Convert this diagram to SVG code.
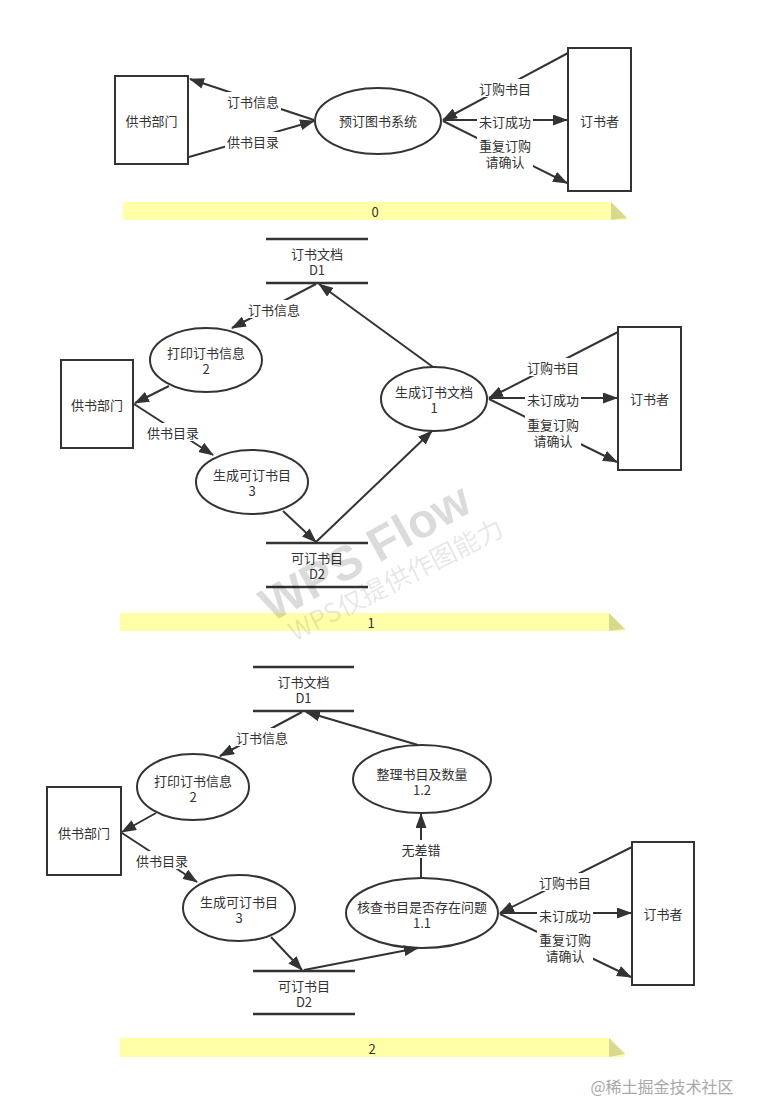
<svg xmlns="http://www.w3.org/2000/svg" width="757" height="1120" viewBox="0 0 757 1120">
<style>
text{font-family:"Noto Sans CJK SC","Liberation Sans",sans-serif;font-size:13px;fill:#333;text-anchor:middle;dominant-baseline:central}
.box{fill:#fff;stroke:#333;stroke-width:2}
.proc{fill:#fff;stroke:#333;stroke-width:2}
.store{stroke:#333;stroke-width:2.5}
.flow{fill:none;stroke:#333;stroke-width:2;marker-end:url(#arr)}
.lbg{fill:#fff}
.band{fill:#ffffa8}
.fold{fill:#d8d88e}
.wm1{font-family:"Liberation Sans",sans-serif;font-weight:bold;font-size:48px;fill:#000;fill-opacity:0.14}
.wm2{font-family:"Noto Sans CJK SC","Liberation Sans",sans-serif;font-size:26px;fill:#000;fill-opacity:0.11}
.credit{font-size:16px;fill:#a8a8a8}
</style>
<defs>
<marker id="arr" markerUnits="userSpaceOnUse" markerWidth="15" markerHeight="11" refX="14" refY="5.5" orient="auto">
<path d="M0,0 L15,5.5 L0,11 z" fill="#333"/>
</marker>
</defs>

<!-- ===== Section 0 ===== -->
<g id="s0-supplier"><rect class="box" x="115" y="76" width="73" height="88"/><text x="151.5" y="120">供书部门</text></g>
<g id="s0-system"><ellipse class="proc" cx="378" cy="121" rx="63" ry="33"/><text x="378" y="120">预订图书系统</text></g>
<g id="s0-orderer"><rect class="box" x="568" y="48" width="63" height="143"/><text x="599.5" y="120">订书者</text></g>
<g id="s0-band"><path class="band" d="M123,202 H611 L627,218 V220 H123 Z"/><path class="fold" d="M611,202 L627,218 L611,220 Z"/><text x="375" y="211">0</text></g>

<!-- ===== Section 1 ===== -->
<g id="s1-D1"><line class="store" x1="266" y1="239" x2="368" y2="239"/><line class="store" x1="266" y1="283" x2="368" y2="283"/><text x="317" y="253">订书文档<tspan x="317" dy="16">D1</tspan></text></g>
<g id="s1-p2"><ellipse class="proc" cx="206" cy="360" rx="56" ry="32"/><text x="206" y="352">打印订书信息<tspan x="206" dy="16">2</tspan></text></g>
<g id="s1-supplier"><rect class="box" x="61" y="360" width="72" height="88"/><text x="97" y="404">供书部门</text></g>
<g id="s1-p3"><ellipse class="proc" cx="252" cy="482" rx="56" ry="32"/><text x="252" y="474">生成可订书目<tspan x="252" dy="16">3</tspan></text></g>
<g id="s1-D2"><line class="store" x1="266" y1="543" x2="368" y2="543"/><line class="store" x1="266" y1="587" x2="368" y2="587"/><text x="317" y="557">可订书目<tspan x="317" dy="16">D2</tspan></text></g>
<g id="s1-p1"><ellipse class="proc" cx="434" cy="399" rx="53" ry="32"/><text x="434" y="391">生成订书文档<tspan x="434" dy="16">1</tspan></text></g>
<g id="s1-orderer"><rect class="box" x="618" y="327" width="63" height="143"/><text x="649.5" y="398">订书者</text></g>
<g id="s1-band"><path class="band" d="M120,613 H609 L625,629 V631 H120 Z"/><path class="fold" d="M609,613 L625,629 L609,631 Z"/><text x="371" y="622">1</text></g>

<!-- ===== Section 2 ===== -->
<g id="s2-D1"><line class="store" x1="253" y1="667" x2="354" y2="667"/><line class="store" x1="253" y1="711" x2="354" y2="711"/><text x="303.5" y="681">订书文档<tspan x="303.5" dy="16">D1</tspan></text></g>
<g id="s2-p2"><ellipse class="proc" cx="193" cy="787" rx="56" ry="33"/><text x="193" y="780">打印订书信息<tspan x="193" dy="16">2</tspan></text></g>
<g id="s2-supplier"><rect class="box" x="47" y="787" width="74" height="88"/><text x="84" y="832">供书部门</text></g>
<g id="s2-p12"><ellipse class="proc" cx="422" cy="779" rx="69" ry="34"/><text x="422" y="773">整理书目及数量<tspan x="422" dy="16">1.2</tspan></text></g>
<g id="s2-p11"><ellipse class="proc" cx="422" cy="913" rx="76" ry="35"/><text x="422" y="906">核查书目是否存在问题<tspan x="422" dy="16">1.1</tspan></text></g>
<g id="s2-orderer"><rect class="box" x="632" y="842" width="62" height="143"/><text x="663" y="913">订书者</text></g>
<g id="s2-p3"><ellipse class="proc" cx="239" cy="908" rx="56" ry="33"/><text x="239" y="901">生成可订书目<tspan x="239" dy="16">3</tspan></text></g>
<g id="s2-D2"><line class="store" x1="253" y1="971" x2="355" y2="971"/><line class="store" x1="253" y1="1014" x2="355" y2="1014"/><text x="304" y="985">可订书目<tspan x="304" dy="16">D2</tspan></text></g>
<g id="s2-band"><path class="band" d="M120,1038 H609 L625,1054 V1057 H120 Z"/><path class="fold" d="M609,1038 L625,1054 L609,1057 Z"/><text x="372" y="1048">2</text></g>

<!-- ===== Connectors ===== -->
<g id="connectors">
<!-- section 0 -->
<line class="flow" x1="314" y1="120" x2="190" y2="79"/>
<line class="flow" x1="189" y1="157" x2="314" y2="121"/>
<line class="flow" x1="568" y1="53" x2="443" y2="120"/>
<line class="flow" x1="443" y1="120" x2="567" y2="120"/>
<line class="flow" x1="443" y1="121" x2="567" y2="183"/>
<!-- section 1 -->
<line class="flow" x1="316" y1="284" x2="232" y2="328"/>
<line class="flow" x1="169" y1="386" x2="135" y2="403"/>
<line class="flow" x1="134" y1="404" x2="213" y2="455"/>
<line class="flow" x1="283" y1="511" x2="316" y2="542"/>
<line class="flow" x1="316" y1="542" x2="432" y2="431"/>
<line class="flow" x1="433" y1="367" x2="319" y2="284"/>
<line class="flow" x1="618" y1="332" x2="489" y2="398"/>
<line class="flow" x1="489" y1="398" x2="617" y2="398"/>
<line class="flow" x1="489" y1="399" x2="617" y2="462"/>
<!-- section 2 -->
<line class="flow" x1="302" y1="712" x2="220" y2="756"/>
<line class="flow" x1="156" y1="813" x2="122" y2="832"/>
<line class="flow" x1="122" y1="833" x2="197" y2="882"/>
<line class="flow" x1="418" y1="745" x2="306" y2="712"/>
<line class="flow" x1="421" y1="878" x2="421" y2="814"/>
<line class="flow" x1="632" y1="847" x2="500" y2="913"/>
<line class="flow" x1="500" y1="913" x2="631" y2="913"/>
<line class="flow" x1="500" y1="914" x2="631" y2="977"/>
<line class="flow" x1="271" y1="937" x2="302" y2="970"/>
<line class="flow" x1="304" y1="970" x2="418" y2="948"/>
<!-- labels -->
<g id="labels">
<rect class="lbg" x="225" y="92" width="56" height="18"/><text x="253" y="101">订书信息</text>
<rect class="lbg" x="225" y="132" width="56" height="18"/><text x="253" y="141">供书目录</text>
<rect class="lbg" x="477" y="79" width="56" height="18"/><text x="505" y="88">订购书目</text>
<rect class="lbg" x="477" y="112" width="56" height="18"/><text x="505" y="121">未订成功</text>
<rect class="lbg" x="477" y="136" width="56" height="34"/><text x="505" y="145">重复订购<tspan x="505" dy="16">请确认</tspan></text>

<rect class="lbg" x="246" y="300" width="56" height="18"/><text x="274" y="309">订书信息</text>
<rect class="lbg" x="145" y="423" width="56" height="18"/><text x="173" y="432">供书目录</text>
<rect class="lbg" x="525" y="358" width="56" height="18"/><text x="553" y="367">订购书目</text>
<rect class="lbg" x="525" y="390" width="56" height="18"/><text x="553" y="399">未订成功</text>
<rect class="lbg" x="525" y="415" width="56" height="34"/><text x="553" y="424">重复订购<tspan x="553" dy="16">请确认</tspan></text>

<rect class="lbg" x="234" y="728" width="56" height="18"/><text x="262" y="737">订书信息</text>
<rect class="lbg" x="134" y="851" width="56" height="18"/><text x="162" y="860">供书目录</text>
<rect class="lbg" x="400" y="840" width="42" height="18"/><text x="421" y="849">无差错</text>
<rect class="lbg" x="537" y="873" width="56" height="18"/><text x="565" y="882">订购书目</text>
<rect class="lbg" x="537" y="906" width="56" height="18"/><text x="565" y="915">未订成功</text>
<rect class="lbg" x="537" y="930" width="56" height="34"/><text x="565" y="939">重复订购<tspan x="565" dy="16">请确认</tspan></text>
</g>
</g>

<!-- watermark -->
<g id="watermark">
<text class="wm1" x="365" y="552" transform="rotate(-29 365 552)">WPS Flow</text>
<text class="wm2" x="395" y="578" transform="rotate(-27 395 578)">WPS仅提供作图能力</text>
</g>
<text class="credit" x="662" y="1086">@稀土掘金技术社区</text>
</svg>
